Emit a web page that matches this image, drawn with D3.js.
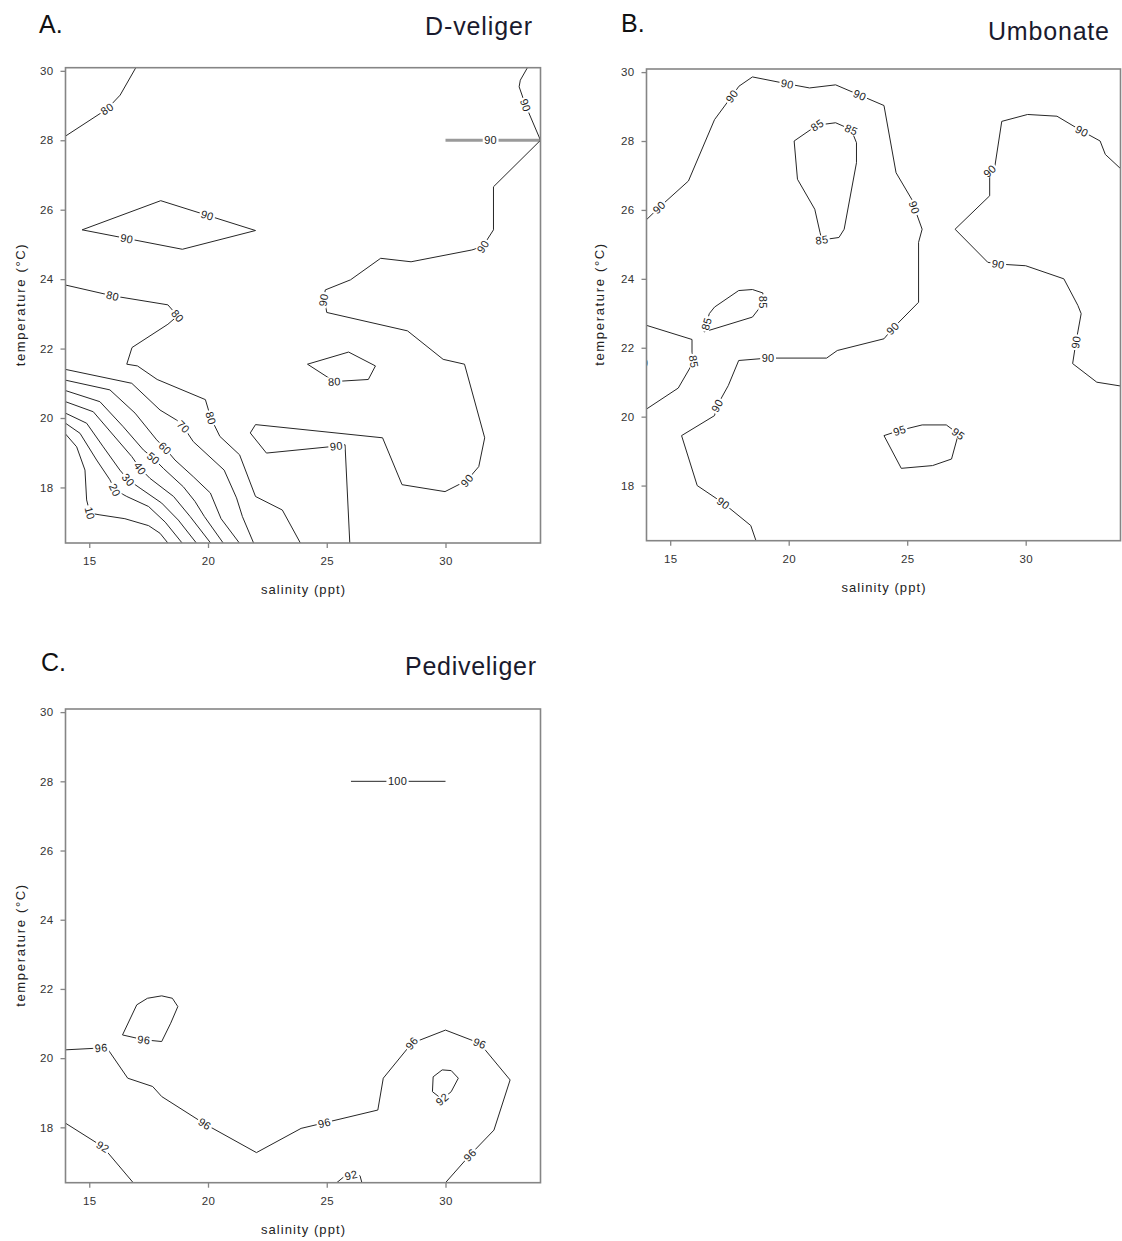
<!DOCTYPE html>
<html><head><meta charset="utf-8">
<script src="https://cdn.jsdelivr.net/npm/d3@7"></script>
<style>
body{margin:0;background:#fff;}
svg{display:block;font-family:"Liberation Sans",Arial,Helvetica,sans-serif;}
</style></head>
<body><svg id="chart" width="1122" height="1241"></svg>
<script>
// ---------- data ----------
const xTicks = [15, 20, 25, 30];
const yTicks = [18, 20, 22, 24, 26, 28, 30];
const xDomain = [14, 34];
const yDomain = [16.4, 30.09];
const panelLetters = ["A.", "B.", "C."];
const panelNames = ["D-veliger", "Umbonate", "Pediveliger"];
const xLabel = "salinity (ppt)";
const yLabel = "temperature (\u00B0C)";

// Panel A (D-veliger): contour lines [salinity, temperature], labels on the line
const contoursA = [
  {level: 80, pts: [[14,28.12],[15.75,28.9],[16.3,29.3],[16.96,30.09]], labels: [[15.75,28.9]]},
  {level: 90, pts: [[33.45,30.09],[33.15,29.73],[33.1,29.54],[33.37,29.01],[34,28.0],[32.02,26.66],[32.02,25.42],[31.57,24.94],[31.11,24.84],[28.55,24.5],[27.27,24.6],[26.0,23.98],[24.94,23.69],[24.86,23.4],[24.94,23.28],[25.0,23.04],[28.4,22.51],[29.9,21.69],[30.8,21.55],[31.65,19.43],[31.4,18.6],[30.9,18.2],[29.98,17.88],[28.17,18.08],[27.35,19.43],[22.0,19.81],[21.78,19.57],[22.46,18.99],[25.4,19.19],[25.77,19.23],[25.97,16.4]],
    labels: [[33.37,29.01],[31.57,24.94],[24.86,23.4],[30.9,18.2],[25.4,19.19]]},
  {level: 90, pts: [[14.7,25.42],[18.01,26.26],[22.0,25.4],[18.92,24.86],[14.7,25.42]], labels: [[19.97,25.84],[16.58,25.17]]},
  {level: 80, pts: [[14,23.83],[15.98,23.52],[18.31,23.26],[18.72,22.94],[18.31,22.7],[16.8,22.03],[16.58,21.55],[17.03,21.5],[17.86,21.11],[19.89,20.53],[20.12,20.0],[20.5,19.47],[21.33,18.94],[22.0,17.74],[23.13,17.35],[23.89,16.4]],
    labels: [[15.98,23.52],[18.72,22.94],[20.12,20.0]]},
  {level: 80, pts: [[24.19,21.55],[25.92,21.9],[27.05,21.5],[26.75,21.11],[25.32,21.05],[24.19,21.55]], labels: [[25.32,21.05]]},
  {level: 70, pts: [[14,21.40],[16.79,21.0],[17.98,20.23],[18.68,19.94],[18.96,19.75],[19.38,19.32],[20.68,18.5],[21.2,17.7],[21.45,17.16],[21.92,16.4]], labels: [[18.96,19.75]]},
  {level: 60, pts: [[14,21.09],[15.87,20.81],[16.93,20.14],[17.84,19.37],[18.19,19.13],[18.61,18.79],[19.38,18.31],[20.1,17.84],[20.55,17.1],[21.32,16.4]], labels: [[18.19,19.13]]},
  {level: 50, pts: [[14,20.79],[15.45,20.47],[16.43,19.75],[17.28,19.08],[17.7,18.84],[18.12,18.55],[18.96,18.02],[19.45,17.6],[19.85,17.16],[20.64,16.4]], labels: [[17.7,18.84]]},
  {level: 40, pts: [[14,20.47],[15.17,20.18],[16.01,19.51],[16.79,18.89],[17.14,18.55],[17.56,18.26],[18.55,17.74],[19.25,17.16],[20.11,16.4]], labels: [[17.14,18.55]]},
  {level: 30, pts: [[14,20.14],[14.89,19.85],[15.59,19.17],[16.29,18.5],[16.64,18.22],[17.14,17.98],[18.05,17.55],[18.75,17.06],[19.51,16.4]], labels: [[16.64,18.22]]},
  {level: 20, pts: [[14,19.85],[14.61,19.56],[15.31,18.79],[15.87,18.22],[16.08,17.93],[16.58,17.74],[17.5,17.45],[18.2,17.0],[18.91,16.4]], labels: [[16.08,17.93]]},
  {level: 10, pts: [[14,19.54],[14.47,19.17],[14.82,18.5],[14.89,17.64],[15.03,17.26],[15.45,17.21],[16.5,17.1],[17.5,16.9],[17.98,16.68],[18.31,16.4]], labels: [[15.03,17.26]]}
];
// Panel A grey segment at 28 degrees
const greyContoursA = [
  {level: 90, pts: [[30,28],[34,28]], labels: [[31.9,28]]}
];

// Panel B (Umbonate)
const contoursB = [
  {level: 90, pts: [[14.02,25.73],[14.53,26.07],[15.77,26.84],[16.87,28.62],[17.6,29.3],[17.9,29.59],[18.47,29.86],[19.94,29.66],[20.88,29.54],[21.98,29.63],[23.0,29.33],[24.02,29.03],[24.53,27.08],[25.19,26.31],[25.3,26.07],[25.63,25.44],[25.48,25.06],[25.48,23.32],[24.39,22.56],[24.02,22.26],[22.05,21.92],[21.6,21.7],[19.13,21.7],[17.89,21.63],[17.45,20.9],[16.98,20.32],[16.87,20.03],[15.48,19.45],[16.14,18.0],[17.24,17.49],[18.4,16.84],[18.62,16.4]],
    labels: [[14.53,26.07],[17.6,29.3],[19.94,29.66],[23.0,29.33],[25.3,26.07],[24.39,22.56],[19.13,21.7],[16.98,20.32],[17.24,17.49]]},
  {level: 85, pts: [[20.23,28.0],[21.2,28.46],[21.98,28.53],[22.64,28.33],[22.86,27.95],[22.86,27.37],[22.34,25.44],[22.12,25.2],[21.4,25.13],[21.32,25.35],[21.1,26.02],[20.37,26.89],[20.23,28.0]],
    labels: [[21.2,28.46],[22.64,28.33],[21.4,25.13]]},
  {level: 90, pts: [[34,27.2],[33.36,27.61],[33.14,28.0],[32.37,28.29],[31.32,28.72],[30.08,28.77],[28.99,28.57],[28.7,27.27],[28.48,27.13],[28.48,26.41],[27.02,25.44],[28.4,24.48],[28.84,24.43],[30.0,24.38],[31.61,24.0],[32.2,23.23],[32.34,22.99],[32.12,22.16],[31.98,21.54],[33.0,21.0],[34,20.89]],
    labels: [[32.37,28.29],[28.48,27.13],[28.84,24.43],[32.12,22.16]]},
  {level: 85, pts: [[16.43,22.46],[16.65,22.99],[16.87,23.18],[17.89,23.66],[18.47,23.69],[18.91,23.59],[18.91,23.28],[18.47,22.89],[16.43,22.46]],
    labels: [[16.5,22.7],[18.91,23.32]]},
  {level: 85, pts: [[14,22.65],[15.92,22.24],[15.92,21.87],[15.99,21.6],[15.34,20.83],[14.02,20.23]], labels: [[15.99,21.6]]},
  {level: 95, pts: [[24.02,19.45],[24.68,19.6],[25.63,19.76],[26.65,19.76],[27.16,19.5],[26.87,18.77],[26.07,18.58],[24.75,18.5],[24.02,19.45]],
    labels: [[24.68,19.6],[27.16,19.5]]}
];
// label cut off by the left edge of panel B: [salinity, temperature, level]
const edgeLabelsB = [[13.8, 21.55, 80]];

// Panel C (Pediveliger)
const contoursC = [
  {level: 100, pts: [[26.02,28],[30.0,28]], labels: [[27.98,28]]},
  {level: 96, pts: [[16.4,20.67],[17.0,21.54],[17.45,21.73],[18.05,21.8],[18.5,21.73],[18.73,21.49],[18.43,21.01],[18.05,20.48],[17.3,20.53],[16.4,20.67]], labels: [[17.3,20.53]]},
  {level: 96, pts: [[14,20.24],[15.12,20.28],[15.5,20.3],[15.8,20.24],[16.62,19.42],[17.67,19.18],[18.05,18.89],[19.86,18.1],[22.04,17.27],[23.92,17.97],[24.9,18.13],[27.15,18.5],[27.38,19.42],[28.58,20.43],[30.0,20.81],[31.44,20.43],[32.72,19.37],[32.04,17.92],[31.03,17.2],[30.0,16.4]],
    labels: [[15.5,20.3],[19.86,18.1],[24.9,18.13],[28.58,20.43],[31.44,20.43],[31.03,17.2]]},
  {level: 92, pts: [[29.45,19.03],[29.48,19.46],[29.86,19.66],[30.24,19.64],[30.54,19.42],[30.24,19.03],[29.86,18.81],[29.45,19.03]], labels: [[29.86,18.81]]},
  {level: 92, pts: [[14,18.12],[15.57,17.44],[16.85,16.4]], labels: [[15.57,17.44]]},
  {level: 92, pts: [[25.42,16.4],[25.72,16.57],[26.02,16.62],[26.4,16.6],[26.48,16.4]], labels: [[26.02,16.62]]}
];

// ---------- layout ----------
const panels = [
  {contours: contoursA, grey: greyContoursA, edge: [], left: 65.5, top: 67.7, w: 475, h: 475.3,
   letter: {x: 39, y: 33}, name: {x: 532, y: 35, len: 107}, ylabX: 25},
  {contours: contoursB, grey: [], edge: edgeLabelsB, left: 646.5, top: 69, w: 474, h: 471.7,
   letter: {x: 621, y: 32}, name: {x: 1109, y: 40, len: 121}, ylabX: 604},
  {contours: contoursC, grey: [], edge: [], left: 65.5, top: 709, w: 475, h: 473.7,
   letter: {x: 41, y: 671}, name: {x: 536, y: 675, len: 131}, ylabX: 25}
];

const svg = d3.select("#chart");
const FRAME = "#858585";
const LINE = "#262626";

function nearestOnLine(ptsPx, p) {
  let best = null;
  for (let i = 0; i < ptsPx.length - 1; i++) {
    const a = ptsPx[i], b = ptsPx[i + 1];
    const dx = b[0] - a[0], dy = b[1] - a[1];
    const L2 = dx * dx + dy * dy || 1e-9;
    let t = ((p[0] - a[0]) * dx + (p[1] - a[1]) * dy) / L2;
    t = Math.max(0, Math.min(1, t));
    const qx = a[0] + t * dx, qy = a[1] + t * dy;
    const d = (qx - p[0]) ** 2 + (qy - p[1]) ** 2;
    if (!best || d < best.d - 1e-6) best = {d, x: qx, y: qy, ang: Math.atan2(dy, dx) * 180 / Math.PI};
  }
  let a = best.ang;
  if (a > 90) a -= 180;
  if (a < -90) a += 180;
  best.ang = a;
  return best;
}

panels.forEach((P, i) => {
  const x = d3.scaleLinear().domain(xDomain).range([0, P.w]);
  const y = d3.scaleLinear().domain(yDomain).range([P.h, 0]);
  const g = svg.append("g").attr("transform", `translate(${P.left},${P.top})`);
  const clipId = "clip" + i;
  g.append("clipPath").attr("id", clipId).append("rect")
    .attr("x", 0).attr("y", 0).attr("width", P.w).attr("height", P.h);
  const plot = g.append("g").attr("clip-path", `url(#${clipId})`);
  const line = d3.line().x(d => x(d[0])).y(d => y(d[1]));

  // grey segment(s)
  P.grey.forEach(c => {
    plot.append("path").attr("d", line(c.pts)).attr("fill", "none")
      .attr("stroke", "#9a9a9a").attr("stroke-width", 3);
  });
  // contour lines
  P.contours.forEach(c => {
    plot.append("path").attr("d", line(c.pts)).attr("fill", "none")
      .attr("stroke", LINE).attr("stroke-width", 1).attr("stroke-linejoin", "round");
  });
  // contour labels
  const all = P.contours.concat(P.grey);
  all.forEach(c => {
    const ptsPx = c.pts.map(d => [x(d[0]), y(d[1])]);
    c.labels.forEach(lp => {
      const n = nearestOnLine(ptsPx, [x(lp[0]), y(lp[1])]);
      const lg = plot.append("g").attr("transform", `translate(${n.x},${n.y}) rotate(${n.ang})`);
      const txt = String(c.level);
      const t = lg.append("text").attr("text-anchor", "middle").attr("dy", "0.36em")
        .attr("font-size", 11).attr("letter-spacing", 0.3).attr("fill", "#222").text(txt);
      const w = t.node().getComputedTextLength();
      lg.insert("rect", "text").attr("x", -w / 2 - 1.5).attr("y", -4.5)
        .attr("width", w + 3).attr("height", 9).attr("fill", "#fff");
    });
  });
  // edge labels (clipped)
  P.edge.forEach(e => {
    plot.append("text").attr("x", x(e[0])).attr("y", y(e[1])).attr("dy", "0.36em")
      .attr("text-anchor", "middle").attr("font-size", 11).attr("fill", "#222").text(String(e[2]));
  });

  // frame
  g.append("rect").attr("x", 0).attr("y", 0).attr("width", P.w).attr("height", P.h)
    .attr("fill", "none").attr("stroke", FRAME).attr("stroke-width", 1.6);

  // axes
  const xa = g.append("g").attr("transform", `translate(0,${P.h})`)
    .call(d3.axisBottom(x).tickValues(xTicks).tickSize(5).tickPadding(9).tickFormat(d3.format("d")));
  const ya = g.append("g")
    .call(d3.axisLeft(y).tickValues(yTicks).tickSize(5).tickPadding(7).tickFormat(d3.format("d")));
  [xa, ya].forEach(a => {
    a.select(".domain").remove();
    a.selectAll(".tick line").attr("stroke", FRAME).attr("stroke-width", 1.3);
    a.selectAll(".tick text").attr("font-size", 11.5).attr("fill", "#333")
      .attr("letter-spacing", 0.4).attr("font-family", "'Liberation Sans',Arial,sans-serif");
  });

  // axis titles
  svg.append("text").attr("x", P.left + P.w / 2).attr("y", P.top + P.h + 51)
    .attr("text-anchor", "middle").attr("font-size", 13).attr("fill", "#222")
    .attr("textLength", 84).attr("lengthAdjust", "spacing").text(xLabel);
  svg.append("text").attr("transform", `translate(${P.ylabX},${P.top + P.h / 2}) rotate(-90)`)
    .attr("text-anchor", "middle").attr("font-size", 13).attr("fill", "#222")
    .attr("textLength", 122).attr("lengthAdjust", "spacing").text(yLabel);

  // panel letter and name
  svg.append("text").attr("x", P.letter.x).attr("y", P.letter.y)
    .attr("font-size", 25).attr("fill", "#111").text(panelLetters[i]);
  svg.append("text").attr("x", P.name.x).attr("y", P.name.y).attr("text-anchor", "end")
    .attr("font-size", 25).attr("fill", "#1a1a2e")
    .attr("textLength", P.name.len).attr("lengthAdjust", "spacing").text(panelNames[i]);
});
</script>
</body></html>
